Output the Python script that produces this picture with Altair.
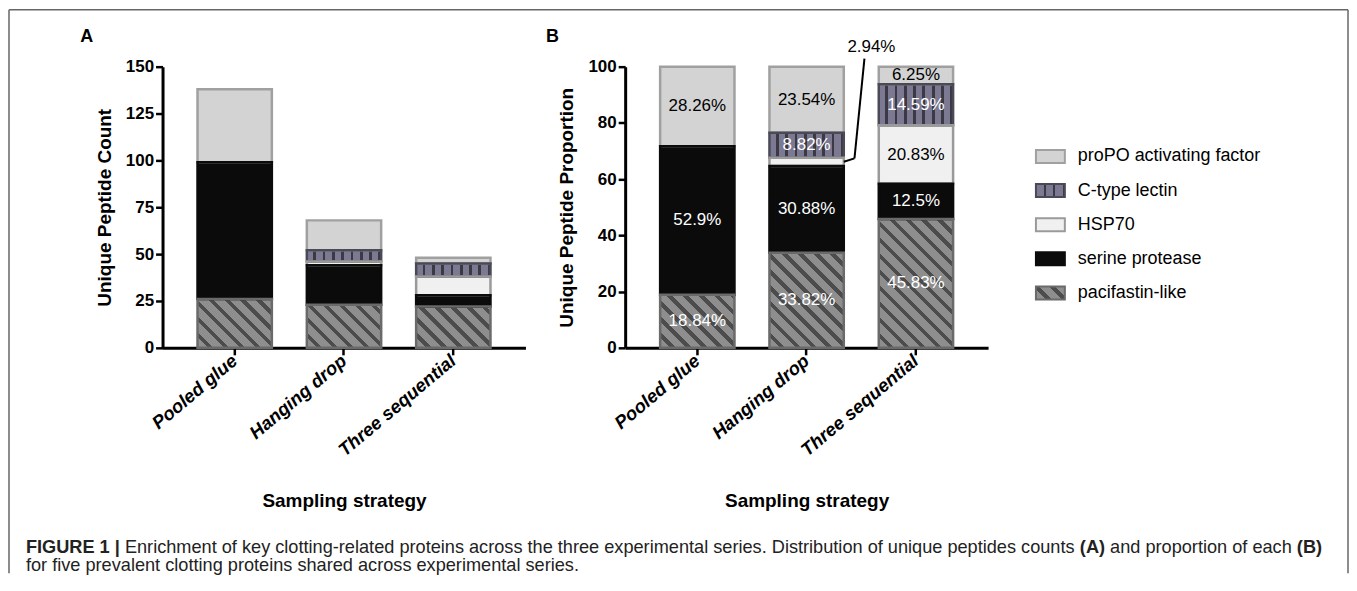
import altair as alt
import pandas as pd

# ---------------- data ----------------
strategies = ["Pooled glue", "Hanging drop", "Three sequential"]
proteins = ["pacifastin-like", "serine protease", "HSP70", "C-type lectin", "proPO activating factor"]  # bottom -> top
legend_order = ["proPO activating factor", "C-type lectin", "HSP70", "serine protease", "pacifastin-like"]

pacifastin_counts = [26, 23, 22]
serine_counts = [73, 21, 6]
hsp70_counts = [0, 2, 10]
ctype_counts = [0, 6, 7]
propo_counts = [39, 16, 3]

pacifastin_pct = [18.84, 33.82, 45.83]
serine_pct = [52.9, 30.88, 12.5]
hsp70_pct = [0, 2.94, 20.83]
ctype_pct = [0, 8.82, 14.59]
propo_pct = [28.26, 23.54, 6.25]

count_ticks = [0, 25, 50, 75, 100, 125, 150]
prop_ticks = [0, 20, 40, 60, 80, 100]

caption_bold_1 = "FIGURE 1 |"
caption_reg_1 = " Enrichment of key clotting-related proteins across the three experimental series. Distribution of unique peptides counts "
caption_bold_2 = "(A)"
caption_reg_2 = " and proportion of each "
caption_bold_3 = "(B)"
caption_line_2 = "for five prevalent clotting proteins shared across experimental series."

# ---------------- style ----------------
FONT = "Liberation Sans"
fill_colors = ["#8c8c8c", "#0b0b0b", "#f0f0f0", "#7c7a93", "#d3d3d3"]
stroke_colors = ["#6a6a6a", "#0b0b0b", "#9a9a9a", "#4a4956", "#a0a0a0"]
text_colors = ["white", "white", "black", "white", "black"]
PAC_LIGHT, PAC_DARK = "#8e8e8e", "#4c4c4c"
CT_LIGHT, CT_DARK = "#7c7a93", "#3a3944"

PW, PH = 364, 282
GAP = 100
PAD = 0.32
STEP = PW / (len(strategies) - PAD + 2 * PAD)
BW = STEP * (1 - PAD)

rows = []
for idx, (p, cs, ps) in enumerate(zip(
        proteins,
        [pacifastin_counts, serine_counts, hsp70_counts, ctype_counts, propo_counts],
        [pacifastin_pct, serine_pct, hsp70_pct, ctype_pct, propo_pct])):
    for s, c, q in zip(strategies, cs, ps):
        rows.append(dict(strategy=s, protein=p, idx=idx, count=c, pct=q, label=f"{q}%"))
df = pd.DataFrame(rows)
one = pd.DataFrame({"k": [0]})


def stop(o, c):
    return {"offset": round(o, 4), "color": c}


def vstripes(n, frac, light, dark):
    stops = []
    for i in range(n):
        a, b, c = i / n, (i + 1 - frac) / n, (i + 1) / n
        stops += [stop(a, light), stop(b, light), stop(b, dark), stop(c, dark)]
    return {"gradient": "linear", "x1": 0, "y1": 0, "x2": 1, "y2": 0, "stops": stops}


def diag(w, h, period, frac, light, dark):
    s = (w + h) / (w * w + h * h)
    n = (w + h) / period
    stops = []
    k = 0
    while k / n < 1:
        a = k / n
        b = min((k + 1 - frac) / n, 1)
        c = min((k + 1) / n, 1)
        stops += [stop(a, light), stop(b, light)]
        if b < 1:
            stops += [stop(b, dark), stop(c, dark)]
        k += 1
    return {"gradient": "linear", "x1": 0, "y1": 1, "x2": round(s * w, 4), "y2": round(1 - s * h, 4), "stops": stops}


fill_scale = alt.Scale(domain=proteins, range=fill_colors)
stroke_scale = alt.Scale(domain=proteins, range=stroke_colors)
text_scale = alt.Scale(domain=proteins, range=text_colors)


def text_layer(txt, x, y, size, weight="normal", align="center", color="black", style="normal"):
    return alt.Chart(one).mark_text(text=txt, font=FONT, fontSize=size, fontWeight=weight, fontStyle=style,
                                    align=align, baseline="middle", color=color).encode(
        x=alt.value(x), y=alt.value(y))


def rule_layer(x, y, x2, y2, color, width):
    return alt.Chart(one).mark_rule(color=color, strokeWidth=width).encode(
        x=alt.value(x), y=alt.value(y), x2=alt.value(x2), y2=alt.value(y2))


def build_panel(field, ymax, ticks, ytitle, ytitle_x, letter, letter_x, pac_vals, labels):
    yscale = alt.Scale(domain=[0, ymax], nice=False, zero=True)
    yaxis = alt.Axis(values=ticks, title=ytitle, grid=False, domainColor="black", domainWidth=3,
                     tickColor="black", tickWidth=2.5, tickSize=7, labelFont=FONT, labelFontSize=17,
                     labelFontWeight="bold", labelColor="black", labelPadding=2, labelOverlap=False,
                     labelFlush=False, titleFont=FONT, titleFontSize=19, titleFontWeight="bold",
                     titleColor="black", titleAngle=270, titleX=ytitle_x, titleY=PH / 2,
                     titleAlign="center", titleBaseline="middle")
    xscale = alt.Scale(domain=strategies, paddingInner=PAD, paddingOuter=PAD)
    xaxis = alt.Axis(title="Sampling strategy", labelAngle=320, labelAlign="right", labelBaseline="middle",
                     labelFont=FONT, labelFontSize=18.5, labelFontWeight="bold", labelFontStyle="italic",
                     labelColor="black", labelPadding=3, labelOverlap=False, labelFlush=False, labelBound=False,
                     domainColor="black", domainWidth=3, tickColor="black", tickWidth=2.5, tickSize=7,
                     titleFont=FONT, titleFontSize=19, titleFontWeight="bold", titleColor="black",
                     titleX=PW / 2, titleY=153, titleAlign="center", titleBaseline="middle")

    def X(**kw):
        return alt.X("strategy:N", sort=strategies, scale=xscale, axis=xaxis, **kw)

    def Y(f):
        return alt.Y(f"{f}:Q", scale=yscale, axis=yaxis)

    base = (alt.Chart(df)
            .transform_filter(f"datum.{field} > 0")
            .transform_stack(stack=field, groupby=["strategy"], as_=["y0", "y1"],
                             sort=[alt.SortField("idx", order="ascending")])
            .transform_calculate(ymid="(datum.y0 + datum.y1) / 2"))

    layers = [base.mark_bar(strokeWidth=0).encode(
        x=X(), y=Y("y0"), y2="y1:Q", fill=alt.Fill("protein:N", scale=fill_scale, legend=None))]

    layers.append(base.transform_filter("datum.protein == 'C-type lectin'")
                  .mark_bar(strokeWidth=0, fill=vstripes(8, 0.3, CT_LIGHT, CT_DARK))
                  .encode(x=X(), y=Y("y0"), y2="y1:Q"))
    for s, v in zip(strategies, pac_vals):
        h = v * PH / ymax
        layers.append(base.transform_filter(f"datum.protein == 'pacifastin-like' && datum.strategy == '{s}'")
                      .mark_bar(strokeWidth=0, fill=diag(BW, h, 16, 0.34, PAC_LIGHT, PAC_DARK))
                      .encode(x=X(), y=Y("y0"), y2="y1:Q"))

    layers.append(base.mark_bar(fillOpacity=0, strokeWidth=2.5).encode(
        x=X(), y=Y("y0"), y2="y1:Q",
        stroke=alt.Stroke("protein:N", scale=stroke_scale, legend=None),
        order=alt.Order("idx:Q", sort="descending")))

    if labels:
        layers.append(base.transform_filter("datum.pct >= 5")
                      .mark_text(font=FONT, fontSize=17, baseline="middle", align="center")
                      .encode(x=X(), y=Y("ymid"), text="label:N",
                              color=alt.Color("protein:N", scale=text_scale, legend=None)))
        small = base.transform_filter("datum.pct < 5")
        layers.append(small.mark_rule(color="black", strokeWidth=2).encode(
            x=X(bandPosition=1), y=Y("ymid"), x2=alt.value(230), y2=alt.value(92)))
        layers.append(rule_layer(230, 92, 240, -8, "black", 2))
        layers.append(small.mark_text(font=FONT, fontSize=17, baseline="middle", align="center",
                                      color="black").encode(
            text="label:N", x=alt.value(247), y=alt.value(-20)))

    layers.append(text_layer(letter, letter_x, -30, 18, weight="bold"))
    return layers


# ---------------- panel A (with frame and caption) ----------------
layers_a = build_panel("count", 150, count_ticks, "Unique Peptide Count", -58, "A", -76,
                       pacifastin_counts, False)

# frame around the figure
FL, FR, FT, FB = -154, 1189, -57, 508
layers_a += [rule_layer(FL, FT, FR, FT, "#666666", 1.5),
             rule_layer(FL, FT, FL, FB, "#666666", 1.5),
             rule_layer(FR, FT, FR, FB, "#666666", 1.5)]

# caption with mixed bold / regular runs (Arial / Liberation metrics)
REG = dict(zip("abcdefghijklmnopqrstuvwxyz", [556, 556, 500, 556, 556, 278, 556, 556, 222, 222, 500, 222, 833,
                                               556, 556, 556, 556, 333, 500, 278, 556, 500, 722, 500, 500, 500]))
REG.update({" ": 278, ".": 278, "-": 333, "E": 667, "D": 722})
BOLD = {"F": 611, "I": 278, "G": 778, "U": 722, "R": 722, "E": 667, " ": 278, "1": 556, "|": 280,
        "(": 333, ")": 333, "A": 722, "B": 722}


def units(t, table):
    return sum(table.get(ch, 556) for ch in t) / 1000.0


runs = [(caption_bold_1, "bold"), (caption_reg_1, "normal"), (caption_bold_2, "bold"),
        (caption_reg_2, "normal"), (caption_bold_3, "bold")]
total = sum(units(t, BOLD if w == "bold" else REG) for t, w in runs)
CAP_SIZE = 1300 / total
CAP_X, CAP_Y1, CAP_Y2 = -137, 483, 501
cx = CAP_X
for t, w in runs:
    table = BOLD if w == "bold" else REG
    lead = len(t) - len(t.lstrip(" "))
    layers_a.append(text_layer(t.strip(" "), cx + lead * 0.278 * CAP_SIZE, CAP_Y1, CAP_SIZE,
                               weight=w, align="left", color="#222222"))
    cx += units(t, table) * CAP_SIZE
layers_a.append(text_layer(caption_line_2, CAP_X, CAP_Y2, CAP_SIZE, align="left", color="#222222"))

panel_a = alt.layer(*layers_a).properties(width=PW, height=PH)

# ---------------- panel B ----------------
layers_b = build_panel("pct", 100, prop_ticks, "Unique Peptide Proportion", -59, "B", -73,
                       pacifastin_pct, True)
panel_b = alt.layer(*layers_b).properties(width=PW, height=PH)

# ---------------- legend panel ----------------
leg_df = df[df["strategy"] == strategies[0]][["protein", "idx"]]
y_leg = alt.Y("protein:N", scale=alt.Scale(type="band", domain=legend_order, range=[83.5, 233.5],
                                           paddingInner=0.62, paddingOuter=0), axis=None)
leg_base = alt.Chart(leg_df)
SX0, SX1 = -52, -23
leg_layers = [
    leg_base.mark_rect(strokeWidth=0).encode(
        x=alt.value(SX0), x2=alt.value(SX1), y=y_leg,
        fill=alt.Fill("protein:N", scale=fill_scale, legend=None)),
    leg_base.transform_filter("datum.protein == 'C-type lectin'")
    .mark_rect(strokeWidth=0, fill=vstripes(3, 0.2, CT_LIGHT, CT_DARK))
    .encode(x=alt.value(SX0), x2=alt.value(SX1), y=y_leg),
    leg_base.transform_filter("datum.protein == 'pacifastin-like'")
    .mark_rect(strokeWidth=0, fill=diag(SX1 - SX0, 13, 16, 0.34, PAC_LIGHT, PAC_DARK))
    .encode(x=alt.value(SX0), x2=alt.value(SX1), y=y_leg),
    leg_base.mark_rect(fillOpacity=0, strokeWidth=2).encode(
        x=alt.value(SX0), x2=alt.value(SX1), y=y_leg,
        stroke=alt.Stroke("protein:N", scale=stroke_scale, legend=None)),
    leg_base.mark_text(font=FONT, fontSize=18, align="left", baseline="middle", color="black").encode(
        x=alt.value(-10), y=y_leg, text="protein:N"),
]
panel_leg = alt.layer(*leg_layers).properties(width=200, height=PH)

chart = (alt.hconcat(panel_a, panel_b, panel_leg, spacing=GAP, bounds="flush")
         .resolve_scale(x="independent", y="independent")
         .properties(padding=0, background="white")
         .configure_view(stroke=None))

chart.save("out.html", embed_options={"renderer": "svg", "actions": False})
